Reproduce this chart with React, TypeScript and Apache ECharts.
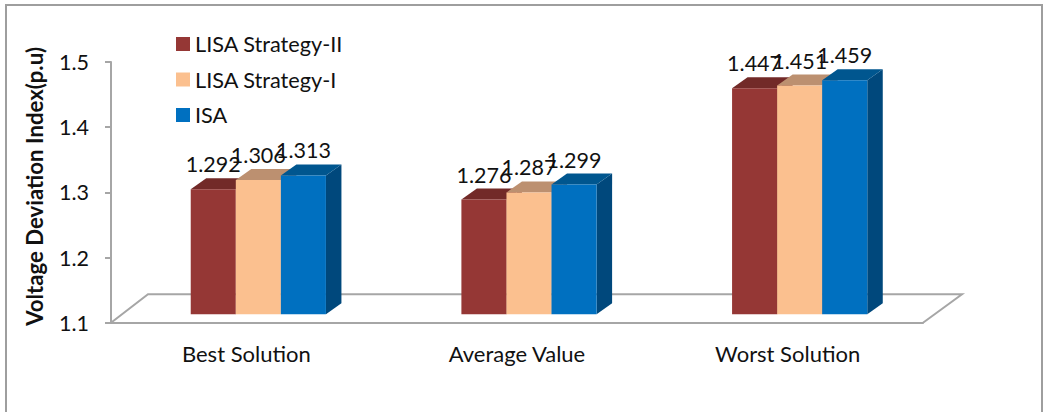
import React, { useEffect, useRef } from "react";
import * as echarts from "echarts";

const categories = ["Best Solution", "Average Value", "Worst Solution"];
const lisaStrategyII = [1.292, 1.276, 1.447];
const lisaStrategyI = [1.306, 1.287, 1.451];
const isa = [1.313, 1.299, 1.459];
const seriesNames = ["LISA Strategy-II", "LISA Strategy-I", "ISA"];
const yTicks = { min: 1.1, max: 1.5, interval: 0.1 };

const FONT = "Lato";
const faces = [
  { front: "#953735", top: "#722A28", side: "#632523" },
  { front: "#FBC08F", top: "#BC9070", side: "#A88060" },
  { front: "#0070C0", top: "#00568F", side: "#00487C" },
];
const GREY = "#A6A6A6";

function barRenderer(seriesIndex: number) {
  return (_params: any, api: any) => {
    const cat = api.value(0);
    const val = api.value(1);
    const [cx, yTop0] = api.coord([cat, val]);
    const [, yBase0] = api.coord([cat, yTicks.min]);
    const band = api.size([1, 0])[0];
    const w = band * 0.1665;
    const shiftX = 12;
    const shiftY = -8.4;
    const dx = 15.5;
    const dy = 11;
    const x0 = cx + shiftX + (seriesIndex - 1.5) * w;
    const x1 = x0 + w;
    const yT = yTop0 + shiftY;
    const yB = yBase0 + shiftY;
    const c = faces[seriesIndex];
    return {
      type: "group",
      children: [
        { type: "polygon", shape: { points: [[x1, yT], [x1 + dx, yT - dy], [x1 + dx, yB - dy], [x1, yB]] }, style: { fill: c.side } },
        { type: "polygon", shape: { points: [[x0, yT], [x0 + dx, yT - dy], [x1 + dx, yT - dy], [x1, yT]] }, style: { fill: c.top } },
        { type: "rect", shape: { x: x0, y: yT, width: w, height: yB - yT }, style: { fill: c.front } },
        {
          type: "text",
          z2: 100,
          style: {
            text: val.toFixed(3),
            x: (x0 + x1) / 2,
            y: yT - 25,
            align: "center",
            verticalAlign: "middle",
            fontSize: 21.5,
            fontFamily: FONT,
            fill: "#111",
          },
        },
      ],
    };
  };
}

function floorRenderer(params: any, _api: any) {
  const s = params.coordSys;
  const dx = 37;
  const dy = 28.5;
  const right = s.x + s.width;
  const bottom = s.y + s.height;
  return {
    type: "polyline",
    shape: {
      points: [
        [s.x, bottom],
        [s.x + dx, bottom - dy],
        [right + 39, bottom - dy],
        [right, bottom],
      ],
    },
    style: { stroke: GREY, lineWidth: 2, fill: "none" },
  };
}

function toSeries(name: string, values: number[], index: number) {
  return {
    type: "custom",
    name,
    renderItem: barRenderer(index),
    encode: { x: 0, y: 1 },
    clip: false,
    itemStyle: { color: faces[index].front },
    data: values.map((v, i) => [i, v]),
    z: 3 + index,
  };
}

export default function App() {
  const ref = useRef<HTMLDivElement>(null);
  useEffect(() => {
    document.body.style.margin = "0";
    const chart = echarts.init(ref.current!, undefined, { renderer: "svg" });
    chart.setOption({
      animation: false,
      backgroundColor: "#fff",
      grid: { left: 111, right: 120, top: 62, bottom: 89.3 },
      graphic: [
        {
          type: "rect",
          silent: true,
          shape: { x: 6, y: 5, width: 1036, height: 430 },
          style: { fill: "none", stroke: "#9E9E9E", lineWidth: 2 },
        },
      ],
      legend: {
        orient: "vertical",
        left: 176,
        top: 33,
        padding: 0,
        itemWidth: 14,
        itemHeight: 14,
        itemGap: 13.5,
        itemStyle: { borderWidth: 0 },
        icon: "rect",
        data: seriesNames,
        textStyle: { fontFamily: FONT, fontSize: 21.7, color: "#111", lineHeight: 21 },
      },
      xAxis: {
        type: "category",
        data: categories,
        axisLine: { lineStyle: { color: GREY, width: 2 } },
        axisTick: { show: false },
        axisLabel: { fontFamily: FONT, fontSize: 22, color: "#111", margin: 20 },
      },
      yAxis: {
        type: "value",
        min: yTicks.min,
        max: yTicks.max,
        interval: yTicks.interval,
        splitLine: { show: false },
        axisLine: { show: true, lineStyle: { color: GREY, width: 2 } },
        axisTick: { show: true, length: 6, lineStyle: { color: GREY, width: 2 } },
        axisLabel: {
          fontFamily: FONT,
          fontSize: 21.5,
          color: "#111",
          margin: 22,
          formatter: (v: number) => v.toFixed(1),
        },
        name: "Voltage Deviation Index(p.u)",
        nameLocation: "middle",
        nameGap: 65.5,
        nameTextStyle: {
          fontFamily: FONT,
          fontWeight: "bold",
          fontSize: 22.2,
          color: "#111",
          padding: [0, 0, 0, 12],
        },
      },
      series: [
        {
          type: "custom",
          name: "floor",
          renderItem: floorRenderer,
          encode: { x: 0, y: 1 },
          clip: false,
          data: [[0, yTicks.min]],
          z: 1,
        },
        toSeries(seriesNames[0], lisaStrategyII, 0),
        toSeries(seriesNames[1], lisaStrategyI, 1),
        toSeries(seriesNames[2], isa, 2),
      ],
    });
    return () => chart.dispose();
  }, []);
  return <div ref={ref} style={{ position: "absolute", left: 0, top: 0, width: 1043, height: 412 }} />;
}
